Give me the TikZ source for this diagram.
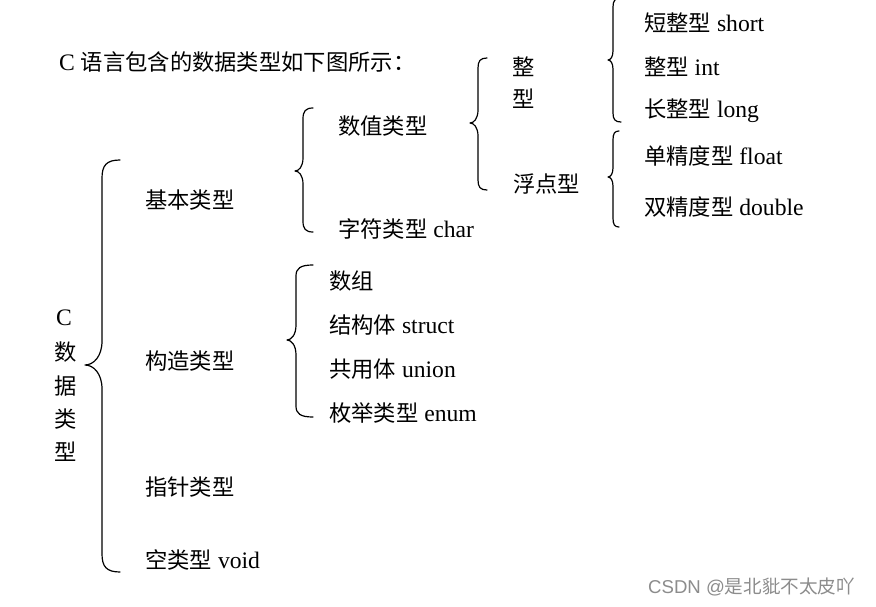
\documentclass[tikz,border=0pt]{standalone}
\usepackage{fontspec}
\setmainfont{Liberation Serif}[Scale=1.06]
\newfontfamily\cjk{Noto Sans CJK SC}
\newfontfamily\wmfont{Liberation Sans}
% xe xv xt ytop ytip ybot r(end) s(tip)
\newcommand{\bracedraw}[8]{%
  \draw[bracestyle] (#1,#4) .. controls ({#2+0.25*(#1-#2)},#4) and (#2,{#4+0.3*#7}) .. (#2,#4+#7)
    -- (#2,#5-#8) .. controls (#2,{#5-0.35*#8}) and ({#3+0.5*(#2-#3)},#5) .. (#3,#5)
    .. controls ({#3+0.5*(#2-#3)},#5) and (#2,{#5+0.35*#8}) .. (#2,#5+#8)
    -- (#2,#6-#7) .. controls (#2,{#6-0.3*#7}) and ({#2+0.25*(#1-#2)},#6) .. (#1,#6);}
\tikzset{
  bracestyle/.style={line width=1.2pt, line cap=round, line join=round},
  lbl/.style={anchor=west, inner sep=0pt, font=\fontsize{22.3}{26}\selectfont},
  vch/.style={anchor=center, inner sep=0pt, font=\fontsize{22.3}{26}\selectfont},
  wm/.style={anchor=west, inner sep=0pt, text=black!45, font=\wmfont\fontsize{18.6}{22}\selectfont}
}
\begin{document}
\begin{tikzpicture}[x=1pt,y=-1pt]
\useasboundingbox (0,0) rectangle (876,607);
\fill[white] (0,0) rectangle (876,607);
% title
\node[lbl] (title) at (59,62) {C {\cjk 语言包含的数据类型如下图所示：}};
% root vertical
\node[vch] (rc) at (64,318) {C};
\node[vch] (r1) at (66,352) {\cjk 数};
\node[vch] (r2) at (66,386) {\cjk 据};
\node[vch] (r3) at (66,419) {\cjk 类};
\node[vch] (r4) at (66,452) {\cjk 型};
% level 1
\node[lbl] (basic) at (145,200) {\cjk 基本类型};
\node[lbl] (cons) at (145,361) {\cjk 构造类型};
\node[lbl] (ptr) at (145,487) {\cjk 指针类型};
\node[lbl] (void) at (145,560) {{\cjk 空类型} void};
% level 2
\node[lbl] (num) at (338,126) {\cjk 数值类型};
\node[lbl] (char) at (338,229) {{\cjk 字符类型} char};
\node[lbl] (arr) at (329,281) {\cjk 数组};
\node[lbl] (struct) at (329,325) {{\cjk 结构体} struct};
\node[lbl] (union) at (329,369) {{\cjk 共用体} union};
\node[lbl] (enum) at (329,413) {{\cjk 枚举类型} enum};
% level 3
\node[vch] (z1) at (524,67) {\cjk 整};
\node[vch] (z2) at (524,99) {\cjk 型};
\node[lbl] (float) at (513,184) {\cjk 浮点型};
% level 4
\node[lbl] (short) at (644,23) {{\cjk 短整型} short};
\node[lbl] (int) at (644,67) {{\cjk 整型} int};
\node[lbl] (long) at (644,111) {{\cjk 长整型} long};
\node[lbl] (flt) at (644,156) {{\cjk 单精度型} float};
\node[lbl] (dbl) at (644,207) {{\cjk 双精度型} double};
% braces
\bracedraw{120}{102}{85}{160}{365}{572}{18}{24}
\bracedraw{313}{303}{295}{108}{171}{232}{11}{13}
\bracedraw{313}{296}{287}{265}{340}{417}{11}{15}
\bracedraw{487}{478}{470}{58}{123}{190}{10}{13}
\bracedraw{621}{613}{608}{-2}{60}{122}{9}{9}
\bracedraw{619}{613}{608}{131}{177}{227}{9}{9}
% watermark
\node[wm] (mark) at (648,587) {CSDN @{\cjk 是北豼不太皮吖}};
\end{tikzpicture}
\end{document}
